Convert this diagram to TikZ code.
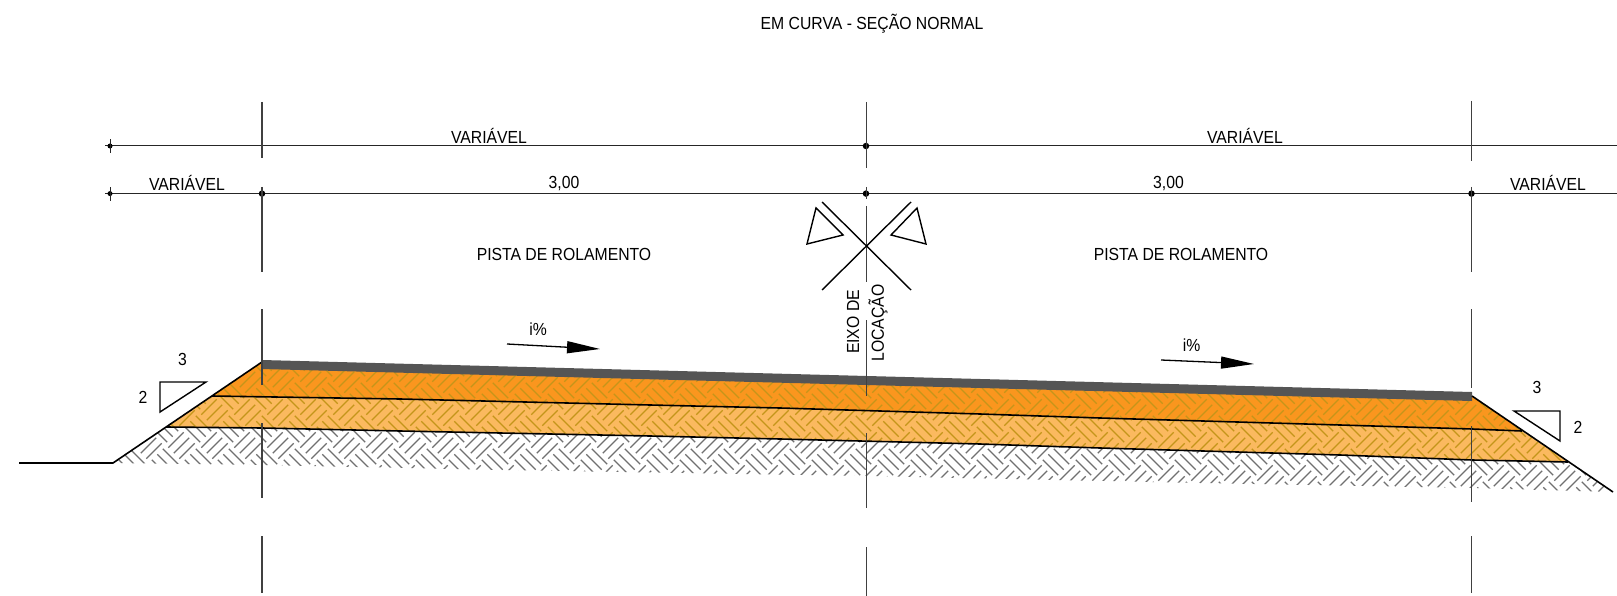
\documentclass[tikz,border=0pt]{standalone}
\usepackage{fontspec}
\setmainfont[FakeStretch=0.9]{Liberation Sans}
\usetikzlibrary{arrows.meta}
\definecolor{baseorange}{HTML}{FA961E}
\definecolor{subbaseorange}{HTML}{FBB95F}
\definecolor{asphaltgrey}{HTML}{555555}
\definecolor{hatchorange}{HTML}{C4951A}
\definecolor{hatchgrey}{HTML}{707070}
\tikzset{
    label/.style={inner sep=0pt, font=\fontsize{17.5}{20}\selectfont},
    dimline/.style={line width=1pt, black!85},
    axisline/.style={line width=1.2pt, black!75},
    edgeline/.style={line width=1.6pt, black},
    slopetri/.style={line width=1.4pt, black, line join=miter},
    dimdot/.style={circle, fill=black, inner sep=0pt, minimum size=#1},
    fallarrow/.style={line width=1.3pt, -{Triangle[length=33pt,width=12pt]}},
}
% parquet hatch: colour, first row, last row
\newcommand{\parquet}[3]{
    \foreach \r in {#2,...,#3}{
        \foreach \c in {0,...,49}{
            \begin{scope}[shift={({33*\c},{33*\r})},scale=1.1]
                \draw[line width=1.25pt, #1] (-7,-7) -- (7,7) (-2,-12) -- (12,2) (-12,-2) -- (2,12);
                \draw[line width=1.25pt, #1] (8,22) -- (22,8) (3,17) -- (17,3) (13,27) -- (27,13);
            \end{scope}
        }
    }
}

\begin{document}
\begin{tikzpicture}[x=1pt,y=-1pt]
    \useasboundingbox (0,0) rectangle (1617,596);
    % Profile points
    \coordinate (toe) at (113,463);
    \coordinate (crestL) at (262,362);
    \coordinate (crestR) at (1472,396);
    \coordinate (baseL) at (212,396);
    \coordinate (baseR) at (1522,431);
    \coordinate (subL) at (166,427);
    \coordinate (subR) at (1568,462);
    \coordinate (endR) at (1613,492);
    % Layers
    \fill[baseorange] (baseL) -- (crestL) -- (crestR) -- (baseR) -- (1472,429) -- (1340,425) -- (1100,418) -- (980,414) -- (780,408) -- (650,405) -- (400,399) -- cycle;
    \fill[subbaseorange] (subL) -- (baseL) -- (400,399) -- (650,405) -- (780,408) -- (980,414) -- (1100,418) -- (1340,425) -- (1472,429) -- (baseR) -- (subR) -- (1472,460) -- (1340,455) -- (1100,448) -- (980,444) -- (780,439) -- (650,436) -- (400,431) -- (262,428) -- cycle;
    % Hatching
    \begin{scope}
        \clip (baseL) -- (crestL) -- (crestR) -- (baseR) -- (1472,429) -- (1340,425) -- (1100,418) -- (980,414) -- (780,408) -- (650,405) -- (400,399) -- cycle;
        \parquet{hatchorange}{10}{13}
    \end{scope}
    \begin{scope}
        \clip (subL) -- (baseL) -- (400,399) -- (650,405) -- (780,408) -- (980,414) -- (1100,418) -- (1340,425) -- (1472,429) -- (baseR) -- (subR) -- (1472,460) -- (1340,455) -- (1100,448) -- (980,444) -- (780,439) -- (650,436) -- (400,431) -- (262,428) -- cycle;
        \parquet{hatchorange}{11}{14}
    \end{scope}
    \begin{scope}
        \clip (toe) -- (subL) -- (262,428) -- (400,431) -- (650,436) -- (780,439) -- (980,444) -- (1100,448) -- (1340,455) -- (1472,460) -- (subR) -- (endR) -- (1472,488) -- (1200,483) -- (866,476) -- (500,470) -- (262,465) -- cycle;
        \parquet{hatchgrey}{12}{15}
    \end{scope}
    \fill[asphaltgrey] (262,360) -- (1472,392) -- (1472,401) -- (262,369) -- cycle;
    % Layer lines
    \draw[edgeline] (baseL) -- (400,399) -- (650,405) -- (780,408) -- (980,414) -- (1100,418) -- (1340,425) -- (1472,429) -- (baseR);
    \draw[edgeline] (subL) -- (262,428) -- (400,431) -- (650,436) -- (780,439) -- (980,444) -- (1100,448) -- (1340,455) -- (1472,460) -- (subR);
    \draw[edgeline] (19,463) -- (toe) -- (crestL);
    \draw[edgeline] (crestR) -- (endR);
    % Dimension lines
    \draw[dimline] (105,146) -- (1617,146);
    \draw[dimline] (105,193.6) -- (1617,193.6);
    \foreach \px/\py/\pname in {110/146/tickA, 110/193.6/tickB}{
        \node[dimdot=5pt] (\pname) at (\px,\py) {};
        \draw[dimline] ([yshift=-7pt]\pname.center) -- ([yshift=7pt]\pname.center);
    }
    \node[dimdot=6.5pt] (dotL) at (262,193.6) {};
    \node[dimdot=6.5pt] (dotC) at (866,193.6) {};
    \node[dimdot=6.5pt] (dotT) at (866,146) {};
    \node[dimdot=6.5pt] (dotR) at (1471.5,193.6) {};
    % Vertical lines
    \foreach \vx/\va/\vb in {262/102/158, 262/187/272, 262/309/385, 262/423/498, 262/536/593,
        1471.5/101/161, 1471.5/187/272, 1471.5/309/388, 1471.5/426/502, 1471.5/536/593}{
        \draw[axisline] (\vx,\va) -- (\vx,\vb);
    }
    \foreach \va/\vb in {102/168, 187/199, 206/282, 320/396, 433/508, 547/596}{
        \draw[axisline] (866.5,\va) -- (866.5,\vb);
    }
    % Axis symbol
    \draw[slopetri] (822,202) -- (911,290);
    \draw[slopetri] (911,202) -- (822,290);
    \draw[slopetri] (816,208) -- (843,235) -- (807,244) -- cycle;
    \draw[slopetri] (917,208) -- (891,235) -- (926,244) -- cycle;
    % Slope triangles
    \draw[slopetri] (160,382) -- (206,382) -- (160,412) -- cycle;
    \draw[slopetri] (1514,411) -- (1560,411) -- (1560,441) -- cycle;
    % Fall arrows
    \coordinate (fallAs) at (507,344);
    \coordinate (fallAe) at (600,349);
    \coordinate (fallBs) at (1161,360);
    \coordinate (fallBe) at (1254,364);
    \draw[fallarrow] (fallAs) -- (fallAe);
    \draw[fallarrow] (fallBs) -- (fallBe);
    % Labels
    \node[label] (title) at (872,24) {EM CURVA - SEÇÃO NORMAL};
    \node[label] (varTopL) at (489,136) {VARIÁVEL};
    \node[label] (varTopR) at (1245,136) {VARIÁVEL};
    \node[label] (varL) at (187,183) {VARIÁVEL};
    \node[label] (varR) at (1548,183) {VARIÁVEL};
    \node[label] (widthL) at (564,183.5) {3,00};
    \node[label] (widthR) at (1168.5,183.5) {3,00};
    \node[label] (pistaL) at (564,254) {PISTA DE ROLAMENTO};
    \node[label] (pistaR) at (1181,254) {PISTA DE ROLAMENTO};
    \node[label] (fallL) at (538,329) {i\%};
    \node[label] (fallR) at (1191.5,345) {i\%};
    \node[label, rotate=90] (eixo) at (853,322) {EIXO DE};
    \node[label, rotate=90] (locacao) at (878,323) {LOCAÇÃO};
    \node[label] (runL) at (182.5,359) {3};
    \node[label] (riseL) at (143,397) {2};
    \node[label] (runR) at (1537,387) {3};
    \node[label] (riseR) at (1578,427) {2};
\end{tikzpicture}
\end{document}
